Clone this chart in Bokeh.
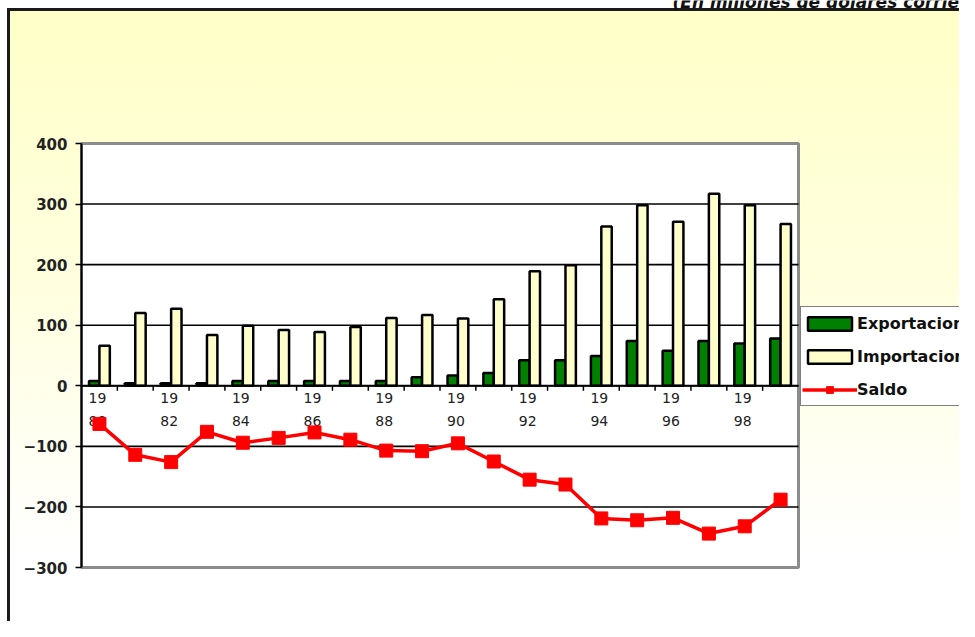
import math
from bokeh.plotting import figure
from bokeh.models import (Range1d, FixedTicker, LinearAxis, Legend, LegendItem,
                          ColumnDataSource, BoxAnnotation, Label)
from bokeh.transform import dodge
from bokeh.core.properties import value
from bokeh.embed import file_html
from bokeh.resources import INLINE

# ---- data (millones de dólares corrientes) ----
years = list(range(1980, 2000))
exportaciones = [8, 4, 4, 4, 8, 8, 8, 8, 8, 14, 17, 21, 42, 42, 49, 74, 58, 74, 70, 78]
importaciones = [66, 120, 127, 84, 99, 92, 89, 97, 112, 117, 111, 143, 189, 199, 263, 298, 271, 317, 298, 267]
saldo = [-63, -114, -126, -76, -94, -86, -77, -89, -107, -108, -95, -125, -155, -163, -219, -222, -218, -244, -232, -188]
y_ticks = [-300, -200, -100, 0, 100, 200, 300, 400]
label_years = years[::2]
x_labels = [str(y)[:2] + "\n" + str(y)[2:] for y in label_years]
title_text = "(En millones de dólares corrientes)"

FONT = "DejaVu Sans"

# ---- layout (pixels) ----
W, H = 959, 621
PL, PR, PT, PB = 81, 798, 143, 567          # plot area in canvas pixels
x_lo, x_hi = years[0] - 0.5, years[-1] + 0.5
y_lo, y_hi = y_ticks[0], y_ticks[-1]
xs = (x_hi - x_lo) / (PR - PL)
ys = (y_hi - y_lo) / (PB - PT)
x_start = x_lo - PL * xs
y_end = y_hi + PT * ys

boundaries = [y + 0.5 for y in years[:-1]]
inner_ticks = y_ticks[1:-1]

src = ColumnDataSource(dict(year=years, exp=exportaciones, imp=importaciones, saldo=saldo))
lab = ColumnDataSource(dict(year=label_years, text=x_labels, zero=[0] * len(label_years)))
grid = ColumnDataSource(dict(y=inner_ticks, x0=[x_lo] * len(inner_ticks), x1=[x_hi] * len(inner_ticks)))
tick = ColumnDataSource(dict(x=boundaries, y=[0] * len(boundaries)))

p = figure(width=W, height=H,
           x_range=Range1d(x_start, x_start + W * xs),
           y_range=Range1d(y_end - H * ys, y_end),
           output_backend="svg", toolbar_location=None,
           x_axis_type=None, y_axis_type=None, min_border=0)
p.background_fill_color = None
p.border_fill_color = None
p.outline_line_color = None
p.xgrid.visible = False
p.ygrid.visible = False
p.styles = {"background": (
    "linear-gradient(#1a1a1a,#1a1a1a) 7px 8px / 3px 100% no-repeat, "
    "linear-gradient(#1a1a1a,#1a1a1a) 7px 8px / 100% 3px no-repeat, "
    "linear-gradient(to bottom, #ffffc8 0%, #ffffe0 45%, #ffffff 88%) 10px 11px / 100% 100% no-repeat, "
    "#ffffff")}

# plot area
p.add_layout(BoxAnnotation(left=x_lo, right=x_hi, bottom=y_lo, top=y_hi,
                           fill_color="white", fill_alpha=1,
                           line_color="#8c8c8c", line_alpha=1, line_width=3,
                           level="underlay"))

# horizontal grid lines
p.segment(x0="x0", x1="x1", y0="y", y1="y", source=grid, line_color="black", line_width=1.6)

yaxis = LinearAxis(fixed_location=x_lo, bounds=(y_lo, y_hi),
                   ticker=FixedTicker(ticks=y_ticks), axis_line_width=2,
                   axis_line_color="black",
                   major_tick_out=6, major_tick_in=0, minor_tick_out=0, minor_tick_in=0,
                   major_tick_line_width=1.5, major_label_standoff=8,
                   major_label_text_font=FONT, major_label_text_font_size="15px",
                   major_label_text_font_style="bold",
                   major_label_text_color="#222")
p.add_layout(yaxis, "left")

r_exp = p.vbar(x=dodge("year", -0.145, range=p.x_range), top="exp", bottom=0, width=0.29,
               source=src, fill_color="#008000", line_color="black", line_width=2.5)
r_imp = p.vbar(x=dodge("year", 0.145, range=p.x_range), top="imp", bottom=0, width=0.29,
               source=src, fill_color="#ffffcc", line_color="black", line_width=2.5)

# x axis line at zero and category ticks
p.segment(x0=x_lo, x1=x_hi, y0=0, y1=0, line_color="black", line_width=2)
p.ray(x="x", y="y", source=tick, length=5, length_units="screen",
      angle=-math.pi / 2, line_color="black", line_width=1.5)

p.text(x="year", y="zero", text="text", source=lab, x_offset=-2, y_offset=4,
       text_align="center", text_baseline="top", text_font=value(FONT),
       text_font_size="14px", text_color="#222", text_line_height=1.45)

r_line = p.line(x="year", y="saldo", source=src, line_color="red", line_width=3.5)
r_pts = p.scatter(x="year", y="saldo", source=src, marker="square", size=13,
                  fill_color="red", line_color="red")

legend = Legend(items=[LegendItem(label="Exportaciones", renderers=[r_exp]),
                       LegendItem(label="Importaciones", renderers=[r_imp]),
                       LegendItem(label="Saldo", renderers=[r_line, r_pts])],
                location=(800, H - 406), orientation="vertical",
                border_line_color="black", border_line_width=1.5,
                background_fill_color="white", background_fill_alpha=1,
                padding=1, spacing=3, margin=0,
                glyph_width=55, glyph_height=17, label_height=30, label_standoff=0,
                label_text_font=FONT, label_text_font_style="bold",
                label_text_font_size="16px", label_text_color="#111")
p.add_layout(legend, "center")

p.add_layout(Label(x=672, y=H - 1, x_units="screen", y_units="screen", text=title_text,
                   text_font=FONT, text_font_style="bold italic", text_font_size="17px",
                   text_color="#111", text_baseline="alphabetic", text_align="left"))

open("out.html", "w").write(file_html(p, INLINE))
